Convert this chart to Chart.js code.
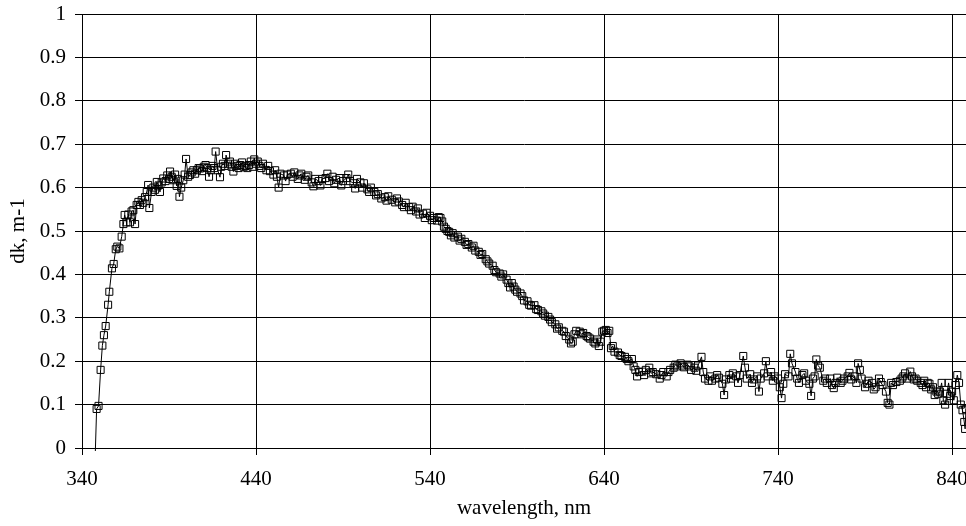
<!DOCTYPE html>
<html>
<head>
<meta charset="utf-8">
<script src="https://cdn.jsdelivr.net/npm/chart.js@4/dist/chart.umd.min.js"></script>
<style>
  html, body { margin: 0; padding: 0; background: #ffffff; overflow: hidden; }
  #wrap { width: 966px; height: 526px; }
</style>
</head>
<body>
<div id="wrap"><canvas id="c" width="966" height="526"></canvas></div>
<script>
// wavelength, nm
const wavelength = [
347.5,348.4,349.5,350.7,351.7,352.6,353.6,355.0,355.7,357.2,358.2,359.4,360.3,361.5,362.8,363.8,364.5,365.5,366.6,367.6,
368.5,369.5,370.5,371.4,372.4,373.3,374.3,375.2,376.2,377.2,378.0,378.7,380,381,382,383,384,384.8,385.8,386.7,
388,389,390,390.6,391.5,392.5,393.5,394.4,395.2,396,397,398.2,399,399.8,401,402,403,404,405,406,
407,407.8,409,410,411,412,413,414,415,416,416.8,418,419.3,420,421,422,422.8,424,425,426,
427,428,429,430,431,432,433,434,435,436,437,438,439,440,441,442,443,444,446,447,
448,450,451,452,453,454,456,457,458,460,461,462,464,465,466,468,469,470,472,473,
474,476,477,478,480,481,482,484,485,486,488,489,490,492,493,494,496,497,498,500,
501,502,504,505,506,508,509,510,512,514,515,516,518,520,521,522,524,525,526,528,
529,530,532,533,534,536,537,538,540,541,542,544,545,546,547,548,549,550,551,552,
553,554,556,557,558,560,561,562,564,565,566,568,569,570,572,573,574,576,577,578,
580,581,582,584,585,586,587,588,589,590,592,593,594,596,597,598,600,601,602,604,
605,606,608,609,610,612,613,614,616,617,618,620,621,622,623,624,626,627,628,630,
631,632,634,635,636,637,638,639,640,641,642,643,644,645,646,648,649,650,652,653,
654,656,657,658,659,660,662,663,664,666,667,668,670,672,673,674,676,677,678,680,
681,682,684,685,686,688,689,690,692,693,694,696,697,698,700,701,702,704,705,706,
708,709,710,712,713,714,716,717,718,720,721,722,724,725,726,728,729,730,732,733,
734,736,737,738,740,741,742,743,744,746,747,748,750,751,752,754,755,756,758,759,
760,761,762,763,764,766,767,768,770,771,772,773,774,776,777,778,780,781,782,784,
785,786,787,788,790,791,792,794,795,796,798,799,800,802,803,804,805,806,808,810,
811,812,813,814,816,817,818,819,820,822,823,824,825,826,827,828,829,830,831,832,
833,834,835,836,837,838,839,840,841,842,843,844,845,846,847,847.5,848
];
// dk, m-1
const dk = [
-0.030,0.090,0.097,0.180,0.236,0.260,0.281,0.330,0.360,0.414,0.424,0.458,0.464,0.460,0.487,0.516,0.537,0.520,0.538,0.520,
0.545,0.548,0.516,0.560,0.567,0.560,0.571,0.565,0.578,0.590,0.606,0.553,0.590,0.600,0.595,0.613,0.605,0.590,0.612,0.621,
0.615,0.628,0.620,0.637,0.625,0.617,0.630,0.604,0.620,0.579,0.600,0.617,0.630,0.666,0.625,0.629,0.635,0.640,0.632,0.640,
0.645,0.644,0.638,0.648,0.652,0.645,0.625,0.640,0.650,0.645,0.683,0.640,0.624,0.648,0.655,0.650,0.675,0.655,0.660,0.648,
0.637,0.655,0.650,0.645,0.652,0.658,0.648,0.650,0.645,0.652,0.660,0.648,0.665,0.655,0.660,0.650,0.645,0.655,0.640,0.650,
0.638,0.630,0.640,0.625,0.600,0.632,0.628,0.615,0.630,0.632,0.625,0.635,0.620,0.628,0.632,0.618,0.625,0.628,0.612,0.603,
0.620,0.615,0.605,0.620,0.622,0.632,0.615,0.625,0.610,0.618,0.622,0.605,0.615,0.622,0.630,0.615,0.610,0.598,0.620,0.612,
0.600,0.610,0.596,0.590,0.600,0.590,0.582,0.585,0.575,0.578,0.570,0.580,0.572,0.566,0.575,0.568,0.560,0.555,0.565,0.555,
0.548,0.556,0.545,0.552,0.538,0.540,0.530,0.542,0.535,0.525,0.530,0.524,0.532,0.530,0.522,0.510,0.505,0.500,0.498,0.490,
0.495,0.485,0.487,0.478,0.482,0.475,0.468,0.470,0.462,0.466,0.455,0.452,0.445,0.447,0.435,0.430,0.425,0.420,0.410,0.405,
0.402,0.395,0.400,0.388,0.380,0.370,0.380,0.372,0.365,0.360,0.356,0.350,0.340,0.338,0.330,0.328,0.329,0.320,0.318,0.315,
0.310,0.305,0.302,0.296,0.290,0.285,0.275,0.278,0.270,0.268,0.258,0.250,0.241,0.245,0.262,0.270,0.268,0.262,0.265,0.258,
0.255,0.252,0.245,0.241,0.250,0.235,0.245,0.268,0.270,0.272,0.265,0.270,0.230,0.235,0.222,0.220,0.214,0.212,0.210,0.205,
0.200,0.205,0.188,0.180,0.165,0.175,0.176,0.168,0.180,0.185,0.172,0.175,0.170,0.160,0.168,0.175,0.165,0.175,0.180,0.185,
0.192,0.188,0.195,0.190,0.186,0.192,0.188,0.180,0.185,0.178,0.190,0.210,0.175,0.160,0.155,0.165,0.155,0.160,0.168,0.162,
0.148,0.122,0.158,0.168,0.160,0.172,0.165,0.150,0.168,0.212,0.185,0.160,0.170,0.150,0.158,0.165,0.130,0.160,0.172,0.200,
0.165,0.175,0.155,0.165,0.160,0.140,0.115,0.148,0.170,0.165,0.217,0.195,0.175,0.160,0.150,0.168,0.172,0.155,0.148,0.120,
0.160,0.165,0.204,0.190,0.185,0.155,0.160,0.150,0.160,0.145,0.138,0.150,0.162,0.150,0.155,0.160,0.165,0.173,0.158,0.165,
0.150,0.195,0.180,0.160,0.140,0.148,0.155,0.150,0.135,0.140,0.160,0.152,0.145,0.130,0.104,0.100,0.150,0.145,0.152,0.155,
0.160,0.165,0.172,0.160,0.176,0.165,0.158,0.160,0.155,0.150,0.145,0.155,0.140,0.150,0.148,0.135,0.140,0.122,0.130,0.125,
0.130,0.150,0.110,0.100,0.125,0.150,0.120,0.130,0.110,0.145,0.168,0.150,0.100,0.087,0.060,0.044,0.090
];
const xTicks = [340, 440, 540, 640, 740, 840];
const yTicks = [0, 0.1, 0.2, 0.3, 0.4, 0.5, 0.6, 0.7, 0.8, 0.9, 1];

const points = wavelength.map((w, i) => ({ x: w, y: dk[i] }));
const FONT = 'Liberation Serif, Times New Roman, serif';

new Chart(document.getElementById('c'), {
  type: 'line',
  data: {
    datasets: [{
      data: points,
      borderColor: '#000000',
      borderWidth: 1,
      tension: 0,
      pointStyle: 'rect',
      pointRadius: 5,
      pointBorderWidth: 1,
      pointBorderColor: '#000000',
      pointBackgroundColor: 'rgba(0,0,0,0)',
      clip: { left: 6, right: 6, top: 6, bottom: 3 }
    }]
  },
  options: {
    responsive: false,
    animation: false,
    events: [],
    layout: { autoPadding: false, padding: { top: 14, right: 0, left: 0, bottom: 0 } },
    plugins: { legend: { display: false }, tooltip: { enabled: false } },
    scales: {
      x: {
        type: 'linear',
        min: 340,
        max: 848,
        afterBuildTicks: (s) => { s.ticks = xTicks.map(v => ({ value: v })); },
        afterFit: (s) => { s.height = 78; s.paddingLeft = 0; s.paddingRight = 0; },
        grid: { color: '#000000', lineWidth: 1, tickLength: 7, drawTicks: true },
        border: { color: '#000000', width: 1 },
        ticks: {
          color: '#000000',
          padding: 12,
          maxRotation: 0,
          autoSkip: false,
          font: { family: FONT, size: 21 },
          callback: (v) => String(v)
        },
        title: {
          display: true,
          text: 'wavelength, nm',
          color: '#000000',
          font: { family: FONT, size: 21 },
          padding: { top: 0, bottom: 5 }
        }
      },
      y: {
        type: 'linear',
        min: 0,
        max: 1,
        afterBuildTicks: (s) => { s.ticks = yTicks.map(v => ({ value: v })); },
        afterFit: (s) => { s.width = 82; s.paddingTop = 0; s.paddingBottom = 0; },
        grid: { color: '#000000', lineWidth: 1, tickLength: 7, drawTicks: true },
        border: { color: '#000000', width: 1 },
        ticks: {
          color: '#000000',
          padding: 9,
          font: { family: FONT, size: 21 },
          callback: (v) => String(Number(v.toFixed(1)))
        },
        title: {
          display: true,
          text: 'dk, m-1',
          color: '#000000',
          font: { family: FONT, size: 21 },
          padding: { top: 6, bottom: 0 }
        }
      }
    }
  }
});
</script>
</body>
</html>
